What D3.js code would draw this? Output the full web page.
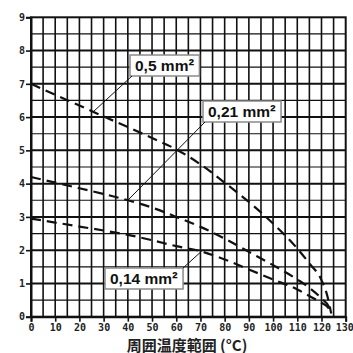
<!DOCTYPE html>
<html>
<head>
<meta charset="utf-8">
<script src="https://cdn.jsdelivr.net/npm/d3@7"></script>
<style>
  html, body { margin: 0; padding: 0; background: #fff; }
  svg { display: block; }
</style>
</head>
<body>
<svg id="chart" width="353" height="353"></svg>
<script>
// Ambient temperature (°C) vs. current (A) for three wire cross-sections
const seriesNames = ["0,5 mm", "0,21 mm", "0,14 mm"];

const temp05 = [0, 10, 20, 30, 40, 50, 60, 70, 80, 90, 100, 110, 115, 120, 122.5, 124];
const amps05 = [7.0, 6.67, 6.35, 6.02, 5.7, 5.37, 5.03, 4.58, 4.03, 3.45, 2.8, 2.05, 1.6, 1.1, 0.6, 0.1];

const temp021 = [0, 10, 20, 30, 40, 50, 60, 70, 80, 90, 100, 110, 115, 120, 123, 124];
const amps021 = [4.2, 4.03, 3.86, 3.69, 3.5, 3.28, 3.0, 2.7, 2.35, 1.95, 1.55, 1.12, 0.87, 0.55, 0.3, 0.1];

const temp014 = [0, 10, 20, 30, 40, 50, 60, 70, 80, 90, 100, 110, 115, 120, 123, 124];
const amps014 = [2.95, 2.83, 2.71, 2.59, 2.46, 2.3, 2.12, 1.97, 1.72, 1.42, 1.12, 0.82, 0.62, 0.42, 0.25, 0.1];

const xTicks = [0, 10, 20, 30, 40, 50, 60, 70, 80, 90, 100, 110, 120, 130];
const yTicks = [0, 1, 2, 3, 4, 5, 6, 7, 8, 9];
const xTitle = "周囲温度範囲 (°C)";

// Point on each curve the label's leader line points to
const leaderTemp = [26, 40, 70.5];
const leaderAmps = [6.18, 3.5, 1.97];

const svg = d3.select("#chart");
const x = d3.scaleLinear().domain([0, 130]).range([31, 345.7]);
const y = d3.scaleLinear().domain([0, 9]).range([316.7, 17.3]);

// Grid: vertical every 5 °C, horizontal every 0.5 A (heavier on whole amps)
const grid = svg.append("g");
grid.selectAll("line.v").data(d3.range(5, 130, 5)).join("line")
  .attr("x1", d => x(d)).attr("x2", d => x(d))
  .attr("y1", y(0)).attr("y2", y(9))
  .attr("stroke", "#111").attr("stroke-width", 1.6);
grid.selectAll("line.h").data(d3.range(0.5, 9, 0.5)).join("line")
  .attr("x1", x(0)).attr("x2", x(130))
  .attr("y1", d => y(d)).attr("y2", d => y(d))
  .attr("stroke", "#111")
  .attr("stroke-width", d => Number.isInteger(d) ? 2 : 1.2);

// Frame
svg.append("rect")
  .attr("x", x(0)).attr("y", y(9))
  .attr("width", x(130) - x(0)).attr("height", y(0) - y(9))
  .attr("fill", "none").attr("stroke", "#111").attr("stroke-width", 2);

// Axes
const xAxis = svg.append("g").attr("transform", `translate(0,${y(0)})`)
  .call(d3.axisBottom(x).tickValues(xTicks).tickSize(5).tickPadding(2).tickFormat(d3.format("d")));
const yAxis = svg.append("g").attr("transform", `translate(${x(0)},0)`)
  .call(d3.axisLeft(y).tickValues(yTicks).tickSize(5).tickPadding(1).tickFormat(d3.format("d")));
[xAxis, yAxis].forEach(a => {
  a.attr("font-family", "DejaVu Sans Mono").attr("font-size", 10).attr("font-weight", "bold");
  a.select(".domain").attr("stroke", "#111").attr("stroke-width", 2);
  a.selectAll(".tick line").attr("stroke", "#111").attr("stroke-width", 1.6);
  a.selectAll(".tick text").attr("fill", "#222");
});
// keep the last temperature label inside the canvas
xAxis.selectAll(".tick text").filter(d => d === 130).attr("dx", -1.5);

// Curves
const line = d3.line().x(d => x(d[0])).y(d => y(d[1])).curve(d3.curveMonotoneX);
const series = [
  d3.zip(temp05, amps05),
  d3.zip(temp021, amps021),
  d3.zip(temp014, amps014)
];
svg.append("g").selectAll("path").data(series).join("path")
  .attr("d", line)
  .attr("fill", "none").attr("stroke", "#111").attr("stroke-width", 2.2)
  .attr("stroke-dasharray", "10,6");

// Labels with leader lines
const labelBoxes = [
  { left: 130, top: 55 },
  { left: 203, top: 101 },
  { left: 105, top: 268 }
];
const leaderFrom = ["bl", "bl", "tr"];

seriesNames.forEach((name, i) => {
  const g = svg.append("g");
  const t = g.append("text")
    .attr("font-family", "Liberation Sans")
    .attr("font-weight", "bold").attr("font-size", 15.5).attr("fill", "#111");
  t.append("tspan").text(name);
  t.append("tspan").text("²").attr("font-size", 17);
  const bb = t.node().getBBox();
  const padX = 5, w = bb.width + padX * 2, h = 21;
  const b = labelBoxes[i];
  t.attr("x", b.left + padX).attr("y", b.top + 16);
  g.insert("rect", "text")
    .attr("x", b.left).attr("y", b.top).attr("width", w).attr("height", h)
    .attr("fill", "#fff").attr("stroke", "#8a8a8a").attr("stroke-width", 1.5);
  const fx = leaderFrom[i] === "bl" ? b.left + 2 : b.left + w;
  const fy = leaderFrom[i] === "bl" ? b.top + h : b.top;
  svg.append("line")
    .attr("x1", fx).attr("y1", fy)
    .attr("x2", x(leaderTemp[i])).attr("y2", y(leaderAmps[i]))
    .attr("stroke", "#111").attr("stroke-width", 1);
});

// Axis title
svg.append("text")
  .attr("x", 187).attr("y", 350.5)
  .attr("text-anchor", "middle")
  .attr("font-family", "Noto Sans CJK JP")
  .attr("font-weight", "bold").attr("font-size", 15).attr("fill", "#222")
  .text(xTitle);
</script>
</body>
</html>
